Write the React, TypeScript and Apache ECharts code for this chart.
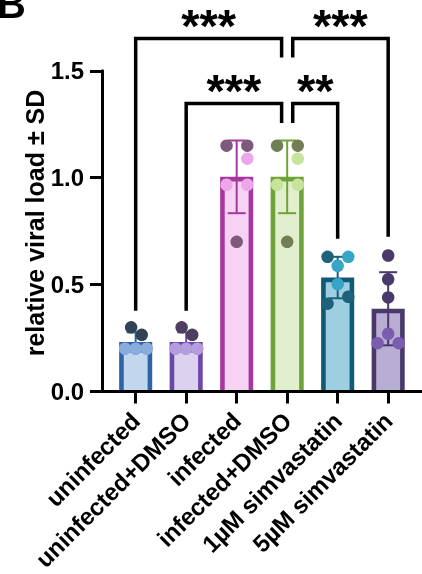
import React, { useEffect, useRef } from "react";
import * as echarts from "echarts";

const categories = [
  "uninfected",
  "uninfected+DMSO",
  "infected",
  "infected+DMSO",
  "1µM simvastatin",
  "5µM simvastatin",
];
const barMeans = [0.232, 0.232, 1.004, 1.004, 0.533, 0.387];
const barSD = [0.045, 0.045, 0.17, 0.17, 0.097, 0.171];
const yTicks = [0, 0.5, 1.0, 1.5];

const borderColors = ["#2e64a6", "#6b47a8", "#a8369f", "#6ea33a", "#115a74", "#49396a"];
const fillColors = ["#c2d6ed", "#dcd1ef", "#f6d3f2", "#e2efcf", "#9dcfe0", "#b8add2"];
const errColors = ["#2e64a6", "#6b47a8", "#a8369f", "#6ea33a", "#1c5f78", "#49396a"];
const darkPointColors = ["#2f4256", "#4c3f60", "#7d5a7d", "#737e55", "#1d627a", "#4a3a6c"];
const lightPointColors = ["#88acdc", "#b39ddc", "#eca7e8", "#c8e39b", "#36a5c8", "#7a5cb0"];

// individual replicate points
const pointGroup = [
  0, 0, 0, 0, 0,
  1, 1, 1, 1, 1,
  2, 2, 2, 2, 2, 2,
  3, 3, 3, 3, 3, 3,
  4, 4, 4, 4, 4, 4,
  5, 5, 5, 5, 5, 5,
];
const pointOffset = [
  -0.09, 0.12, -0.21, 0, 0.22,
  -0.09, 0.12, -0.21, 0, 0.22,
  -0.2, 0.21, 0.21, -0.2, 0.21, 0,
  -0.2, 0.21, 0.21, -0.2, 0.21, 0,
  -0.2, 0.21, 0, 0, 0.21, -0.2,
  0, 0, 0, 0, -0.21, 0.21,
];
const pointValue = [
  0.3, 0.265, 0.2, 0.2, 0.2,
  0.3, 0.265, 0.2, 0.2, 0.2,
  1.15, 1.15, 1.089, 0.967, 0.967, 0.7,
  1.15, 1.15, 1.089, 0.967, 0.967, 0.7,
  0.63, 0.63, 0.588, 0.502, 0.443, 0.411,
  0.636, 0.525, 0.44, 0.27, 0.226, 0.226,
];
const pointDark = [
  1, 1, 0, 0, 0,
  1, 1, 0, 0, 0,
  1, 1, 0, 0, 0, 1,
  1, 1, 0, 0, 0, 1,
  1, 0, 0, 0, 1, 1,
  1, 1, 1, 0, 0, 0,
];

// significance brackets
const bracketLeft = [0, 3.11, 1, 3.11];
const bracketRight = [2.89, 5, 2.89, 4];
const bracketTop = [1.651, 1.651, 1.347, 1.347];
const bracketLeftEnd = [0.378, 1.562, 0.378, 1.256];
const bracketRightEnd = [1.562, 0.724, 1.256, 0.714];
const bracketStars = ["***", "***", "***", "**"];

const FONT = "Liberation Sans";

export default function App() {
  const ref = useRef<HTMLDivElement>(null);

  useEffect(() => {
    document.body.style.margin = "0";
    const chart = echarts.init(ref.current!, null, { renderer: "svg" });

    const barData = categories.map((_, i) => [i, barMeans[i], barSD[i]]);
    const pointData = pointValue.map((v, k) => {
      const g = pointGroup[k];
      return {
        value: [g + pointOffset[k], v],
        itemStyle: { color: pointDark[k] ? darkPointColors[g] : lightPointColors[g], opacity: 1 },
      };
    });
    const bracketData = bracketTop.map((t, k) => [bracketLeft[k], bracketRight[k], t, bracketLeftEnd[k], bracketRightEnd[k]]);

    const starSize = 47;

    chart.setOption({
      animation: false,
      grid: { left: 102, right: 0, top: 70.8, bottom: 182.5, outerBoundsMode: "none" },
      xAxis: {
        type: "value",
        min: -0.667,
        max: 5.67,
        z: 10,
        splitLine: { show: false },
        axisLine: { show: true, onZero: false, lineStyle: { color: "#000", width: 3 } },
        axisTick: { show: true, length: 12, lineStyle: { color: "#000", width: 3 }, customValues: [0, 1, 2, 3, 4, 5] },
        axisLabel: {
          customValues: [0, 1, 2, 3, 4, 5],
          formatter: (v: number) => categories[Math.round(v)] ?? "",
          rotate: 45,
          margin: 25,
          color: "#000",
          fontWeight: "bold",
          fontSize: 24,
          fontFamily: FONT,
        },
      },
      yAxis: {
        type: "value",
        min: 0,
        max: 1.5,
        interval: 0.5,
        z: 10,
        splitLine: { show: false },
        axisLine: { show: true, onZero: false, lineStyle: { color: "#000", width: 3 } },
        axisTick: { show: true, length: 12, lineStyle: { color: "#000", width: 3 } },
        axisLabel: {
          formatter: (v: number) => (yTicks.includes(v) ? v.toFixed(1) : ""),
          margin: 18,
          color: "#000",
          fontWeight: "bold",
          fontSize: 24,
          fontFamily: FONT,
        },
      },
      graphic: [
        {
          type: "text",
          x: -3,
          y: 4,
          style: { text: "B", font: `bold 40px ${FONT}`, fill: "#000", align: "left", verticalAlign: "middle" },
        },
        {
          type: "text",
          x: 35,
          y: 223,
          rotation: Math.PI / 2,
          style: {
            text: "relative viral load ± SD",
            font: `bold 25px ${FONT}`,
            fill: "#000",
            align: "center",
            verticalAlign: "middle",
          },
        },
      ],
      series: [
        {
          type: "custom",
          z: 2,
          clip: false,
          data: barData,
          renderItem: (params: any, api: any) => {
            const idx = params.dataIndex;
            const i = api.value(0);
            const m = api.value(1);
            const s = api.value(2);
            const top = api.coord([i, m]);
            const base = api.coord([i, 0]);
            const band = api.size([1, 0])[0];
            const w = band * 0.655;
            const bw = 4.6;
            const x0 = top[0] - w / 2;
            const hi = api.coord([i, m + s]);
            const lo = api.coord([i, m - s]);
            const cap = 9;
            return {
              type: "group",
              children: [
                { type: "rect", shape: { x: x0, y: top[1], width: w, height: base[1] - top[1] }, style: { fill: borderColors[idx] } },
                {
                  type: "rect",
                  shape: { x: x0 + bw, y: top[1] + bw, width: w - 2 * bw, height: Math.max(0, base[1] - top[1] - bw) },
                  style: { fill: fillColors[idx] },
                },
                { type: "line", shape: { x1: top[0], y1: hi[1], x2: top[0], y2: lo[1] }, style: { stroke: errColors[idx], lineWidth: 2 } },
                { type: "line", shape: { x1: top[0] - cap, y1: hi[1], x2: top[0] + cap, y2: hi[1] }, style: { stroke: errColors[idx], lineWidth: 2 } },
                { type: "line", shape: { x1: top[0] - cap, y1: lo[1], x2: top[0] + cap, y2: lo[1] }, style: { stroke: errColors[idx], lineWidth: 2 } },
              ],
            };
          },
        },
        {
          type: "scatter",
          z: 3,
          symbolSize: 12.5,
          data: pointData,
        },
        {
          type: "custom",
          z: 4,
          clip: false,
          data: bracketData,
          renderItem: (params: any, api: any) => {
            const k = params.dataIndex;
            const l = api.value(0);
            const r = api.value(1);
            const t = api.value(2);
            const pl = api.coord([l, api.value(3)]);
            const plt = api.coord([l, t]);
            const prt = api.coord([r, t]);
            const pr = api.coord([r, api.value(4)]);
            return {
              type: "group",
              children: [
                {
                  type: "polyline",
                  shape: { points: [pl, plt, prt, pr] },
                  style: { stroke: "#000", lineWidth: 3.5, fill: "none", lineJoin: "miter", lineCap: "butt" },
                },
                {
                  type: "text",
                  x: (plt[0] + prt[0]) / 2,
                  y: plt[1] - 24 + 0.225 * starSize,
                  style: {
                    text: bracketStars[k],
                    font: `bold ${starSize}px ${FONT}`,
                    fill: "#000",
                    align: "center",
                    verticalAlign: "middle",
                  },
                },
              ],
            };
          },
        },
      ],
    });

    return () => chart.dispose();
  }, []);

  return <div ref={ref} style={{ position: "fixed", left: 0, top: 0, width: 422, height: 574 }} />;
}
